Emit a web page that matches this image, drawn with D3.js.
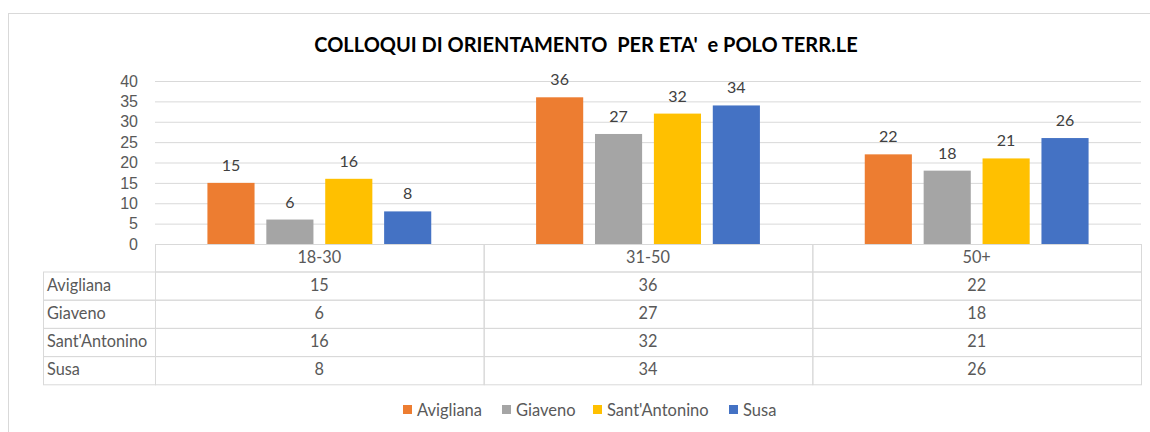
<!DOCTYPE html>
<html>
<head>
<meta charset="utf-8">
<script src="https://cdn.jsdelivr.net/npm/d3@7"></script>
<style>
body { margin: 0; background: #fff; }
svg { font-family: Lato, "Open Sans", sans-serif; }
.grid line { stroke: #d9d9d9; stroke-width: 1; }
.tick text { fill: #595959; font-size: 16px; }
.cell { stroke: #d9d9d9; fill: none; }
.tableText { fill: #595959; font-size: 16.3px; }
.valueLabel { fill: #404040; font-size: 16px; text-anchor: middle; }
.legendText { fill: #595959; font-size: 16.5px; }
</style>
</head>
<body>
<div id="chart"></div>
<script>
//data
var categories = ["18-30", "31-50", "50+"];
var seriesNames = ["Avigliana", "Giaveno", "Sant'Antonino", "Susa"];
var avigliana = [15, 36, 22];
var giaveno = [6, 27, 18];
var santAntonino = [16, 32, 21];
var susa = [8, 34, 26];
var yTicks = [0, 5, 10, 15, 20, 25, 30, 35, 40];
var colors = ["#ed7d31", "#a5a5a5", "#ffc000", "#4472c4"];

var seriesValues = [avigliana, giaveno, santAntonino, susa];

var W = 1150, H = 432;
var plot = { left: 155, right: 1141, top: 81, bottom: 244 };
var rowH = 28.2, headH = 27.5, tableLeft = 43;

var svg = d3.select("#chart").append("svg")
	.attr("width", W)
	.attr("height", H);

//chart border
svg.append("rect")
	.attr("x", 8.5).attr("y", 13.5)
	.attr("width", W).attr("height", H)
	.attr("fill", "none")
	.attr("stroke", "#d9d9d9");

//title
svg.append("text")
	.attr("x", 586)
	.attr("y", 52)
	.attr("text-anchor", "middle")
	.style("font-size", "20px")
	.style("font-weight", "bold")
	.style("fill", "#000")
	.attr("xml:space", "preserve")
	.text("COLLOQUI DI ORIENTAMENTO  PER ETA'  e POLO TERR.LE");

//scales
var x0 = d3.scaleBand()
	.domain(categories)
	.range([plot.left, plot.right]);

var x1 = d3.scaleBand()
	.domain(seriesNames)
	.range([0, x0.bandwidth()])
	.paddingInner(0.2)
	.paddingOuter(0.89);

var y = d3.scaleLinear()
	.domain([0, 40])
	.range([plot.bottom, plot.top]);

//gridlines + y labels
var yAxis = d3.axisLeft(y)
	.tickValues(yTicks)
	.tickSize(-(plot.right - plot.left))
	.tickPadding(17);

svg.append("g")
	.attr("class", "grid")
	.attr("transform", "translate(" + plot.left + ",0)")
	.call(yAxis)
	.call(g => g.select(".domain").remove())
	.call(g => g.selectAll(".tick line").attr("x1", 0));

//bars
var groups = svg.selectAll(".group")
	.data(categories)
	.enter().append("g")
	.attr("class", "group")
	.attr("transform", d => "translate(" + x0(d) + ",0)");

groups.selectAll("rect")
	.data((d, i) => seriesNames.map((s, j) => ({ series: s, j: j, value: seriesValues[j][i] })))
	.enter().append("rect")
	.attr("x", d => x1(d.series))
	.attr("y", d => y(d.value))
	.attr("width", x1.bandwidth())
	.attr("height", d => y(0) - y(d.value))
	.attr("fill", d => colors[d.j]);

groups.selectAll(".valueLabel")
	.data((d, i) => seriesNames.map((s, j) => ({ series: s, value: seriesValues[j][i] })))
	.enter().append("text")
	.attr("class", "valueLabel")
	.attr("x", d => x1(d.series) + x1.bandwidth() / 2)
	.attr("y", d => y(d.value) - 12)
	.text(d => d.value);

//data table
var table = svg.append("g").attr("class", "dataTable");

//header row (categories)
categories.forEach(function(c) {
	table.append("rect")
		.attr("class", "cell")
		.attr("x", x0(c) + 0.5)
		.attr("y", plot.bottom + 0.5)
		.attr("width", x0.bandwidth())
		.attr("height", headH);
	table.append("text")
		.attr("class", "tableText")
		.attr("x", x0(c) + x0.bandwidth() / 2)
		.attr("y", plot.bottom + headH / 2 + 5)
		.attr("text-anchor", "middle")
		.text(c);
});

seriesNames.forEach(function(s, j) {
	var top = plot.bottom + headH + j * rowH;
	table.append("rect")
		.attr("class", "cell")
		.attr("x", tableLeft + 0.5)
		.attr("y", top + 0.5)
		.attr("width", plot.left - tableLeft)
		.attr("height", rowH);
	table.append("text")
		.attr("class", "tableText")
		.attr("x", tableLeft + 4)
		.attr("y", top + rowH / 2 + 5)
		.text(s);
	categories.forEach(function(c, i) {
		table.append("rect")
			.attr("class", "cell")
			.attr("x", x0(c) + 0.5)
			.attr("y", top + 0.5)
			.attr("width", x0.bandwidth())
			.attr("height", rowH);
		table.append("text")
			.attr("class", "tableText")
			.attr("x", x0(c) + x0.bandwidth() / 2)
			.attr("y", top + rowH / 2 + 5)
			.attr("text-anchor", "middle")
			.text(seriesValues[j][i]);
	});
});

//legend
var legendX = [403, 502, 593, 729];
var legend = svg.append("g").attr("class", "legend");
seriesNames.forEach(function(s, j) {
	legend.append("rect")
		.attr("x", legendX[j])
		.attr("y", 405)
		.attr("width", 9)
		.attr("height", 9)
		.attr("fill", colors[j]);
	legend.append("text")
		.attr("class", "legendText")
		.attr("x", legendX[j] + 14)
		.attr("y", 416)
		.text(s);
});
</script>
</body>
</html>
